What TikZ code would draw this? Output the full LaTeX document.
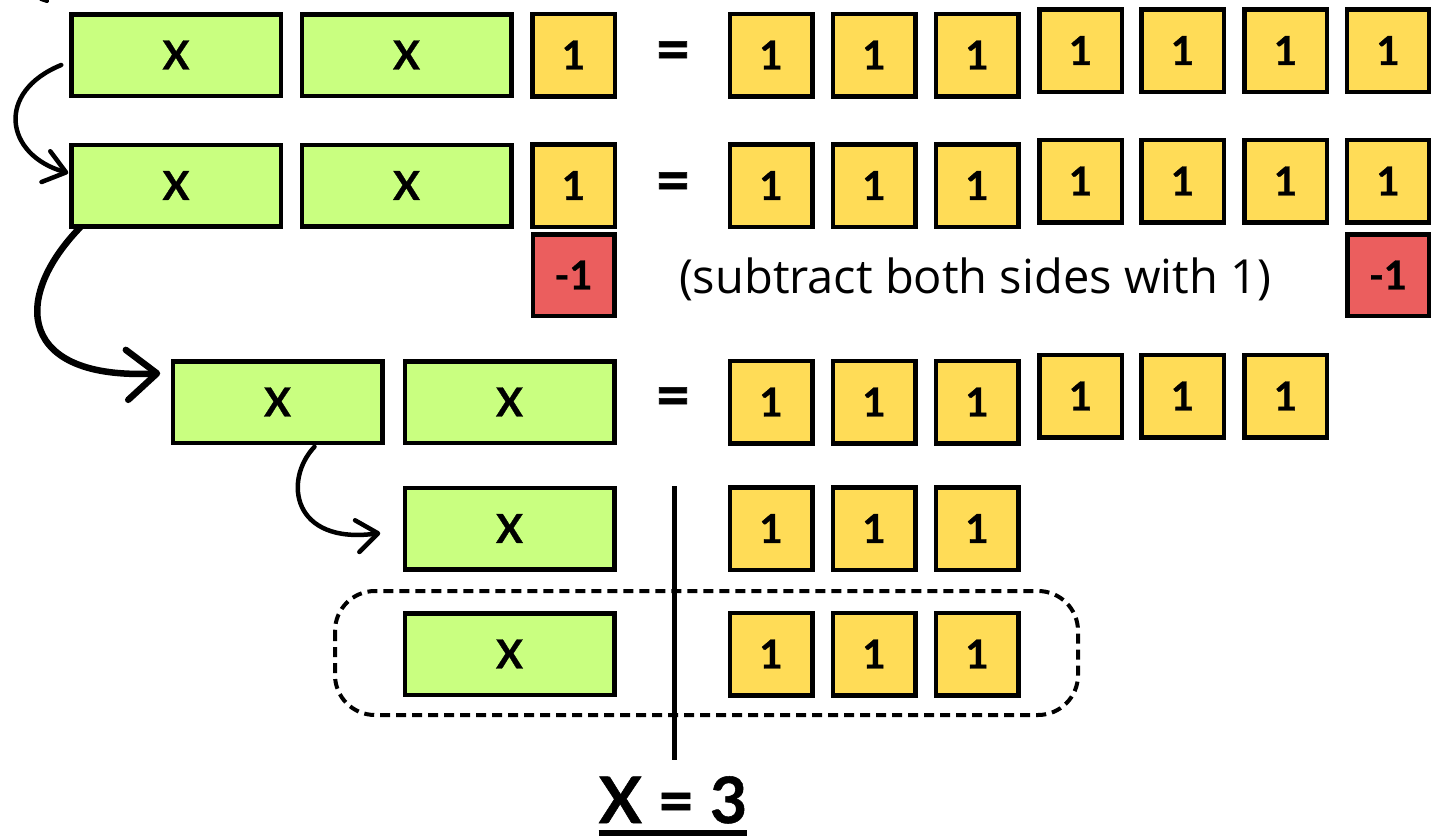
\documentclass[tikz,border=0pt]{standalone}
\usepackage{fontspec}
\setmainfont{Lato}
\newfontfamily\notefont{Open Sans}
\usetikzlibrary{arrows.meta}
\definecolor{gfill}{HTML}{C9FF80}
\definecolor{yfill}{HTML}{FFDC57}
\definecolor{rfill}{HTML}{EB5E5E}
\tikzset{
  box/.style={draw=black, line width=4.5pt, inner sep=0pt, outer sep=0pt,
    font=\fontsize{40}{40}\selectfont\bfseries\addfontfeatures{FakeBold=0.8}},
  xbox/.style={box, fill=gfill, minimum width=209.5pt, minimum height=81.5pt},
  onebox/.style={box, fill=yfill, minimum width=82.5pt, minimum height=82.5pt},
  negbox/.style={box, fill=rfill, minimum width=81.5pt, minimum height=81.5pt},
  eqsign/.style={inner sep=0pt, font=\fontsize{62}{62}\selectfont\bfseries\addfontfeatures{FakeBold=1}},
  thinarrow/.style={line width=4.5pt, line cap=round,
    -{Straight Barb[length=21pt,width=32pt,line cap=round,line join=round]}},
  thickarrow/.style={line width=6.5pt, line cap=round,
    -{Straight Barb[length=30pt,width=50pt,line cap=round,line join=round]}},
  dividerline/.style={line width=5pt},
  groupframe/.style={line width=4pt, dash pattern=on 10pt off 6pt, rounded corners=40pt},
}
\begin{document}
\begin{tikzpicture}[x=1pt,y=-1pt]
\useasboundingbox (0,0) rectangle (1431,838);
% row 1
\node[xbox] (a1) at (176,55) {X};
\node[xbox] (a2) at (406.5,55) {X};
\node[onebox] (a3) at (573.5,55) {1};
\node[eqsign] (ae) at (673,56) {=};
\node[onebox] (a4) at (771,55) {1};
\node[onebox] (a5) at (874,55) {1};
\node[onebox] (a6) at (977,55) {1};
\node[onebox] (a7) at (1080.5,50.5) {1};
\node[onebox] (a8) at (1182.5,50.5) {1};
\node[onebox] (a9) at (1285.5,50.5) {1};
\node[onebox] (a10) at (1388,50.5) {1};
% row 2
\node[xbox] (b1) at (176,185.5) {X};
\node[xbox] (b2) at (406.5,185.5) {X};
\node[onebox] (b3) at (573.5,185.5) {1};
\node[eqsign] (be) at (673,187) {=};
\node[onebox] (b4) at (771,185.5) {1};
\node[onebox] (b5) at (874,185.5) {1};
\node[onebox] (b6) at (977,185.5) {1};
\node[onebox] (b7) at (1080.5,181) {1};
\node[onebox] (b8) at (1182.5,181) {1};
\node[onebox] (b9) at (1285.5,181) {1};
\node[onebox] (b10) at (1388,181) {1};
\node[negbox] (n1) at (573.5,275) {-1};
\node[negbox] (n2) at (1388,275) {-1};
\node[anchor=base, inner sep=0pt, font=\notefont\fontsize{47}{47}\selectfont] (note) at (975,293) {(subtract both sides with 1)};
% row 3
\node[xbox] (c1) at (277.5,402) {X};
\node[xbox] (c2) at (509.5,402) {X};
\node[eqsign] (ce) at (673,402) {=};
\node[onebox] (c4) at (771,402) {1};
\node[onebox] (c5) at (874,402) {1};
\node[onebox] (c6) at (977,402) {1};
\node[onebox] (c7) at (1080.5,396) {1};
\node[onebox] (c8) at (1182.5,396) {1};
\node[onebox] (c9) at (1285.5,396) {1};
% row 4
\node[xbox] (d1) at (509.5,528.5) {X};
\node[onebox] (d4) at (771,528.5) {1};
\node[onebox] (d5) at (874,528.5) {1};
\node[onebox] (d6) at (977,528.5) {1};
% row 5
\node[xbox] (e1) at (509.5,654) {X};
\node[onebox] (e4) at (771,654) {1};
\node[onebox] (e5) at (874,654) {1};
\node[onebox] (e6) at (977,654) {1};
\draw[groupframe] (335,591) rectangle (1078,715);
% divider
\draw[dividerline] (674,486) -- (674,760);
% result
\node[anchor=base, inner sep=0pt, font=\fontsize{64}{64}\selectfont\bfseries\addfontfeatures{FakeBold=0.8}] (res) at (673,823) {X = 3};
\draw[line width=6pt] ([yshift=-9.5pt]res.base west) -- ([yshift=-9.5pt]res.base east);
% arrows
\draw[line width=4pt, line cap=round] (41,-1) -- (47,1);
\draw[thinarrow] ([xshift=-10pt,yshift=-10pt]a1.west) .. controls (-5,92) and (5,155) .. ([xshift=-3pt,yshift=12.5pt]b1.west);
\draw[thickarrow] ([xshift=9pt,yshift=-1pt]b1.south west) .. controls (10,300) and (20,380) .. ([xshift=-12.5pt,yshift=-12pt]c1.north west);
\draw[thinarrow] ([xshift=37pt,yshift=-4pt]c1.south) .. controls (283,480) and (292,545) .. ([xshift=-24.5pt,yshift=-4.5pt]d1.west);
\end{tikzpicture}
\end{document}
